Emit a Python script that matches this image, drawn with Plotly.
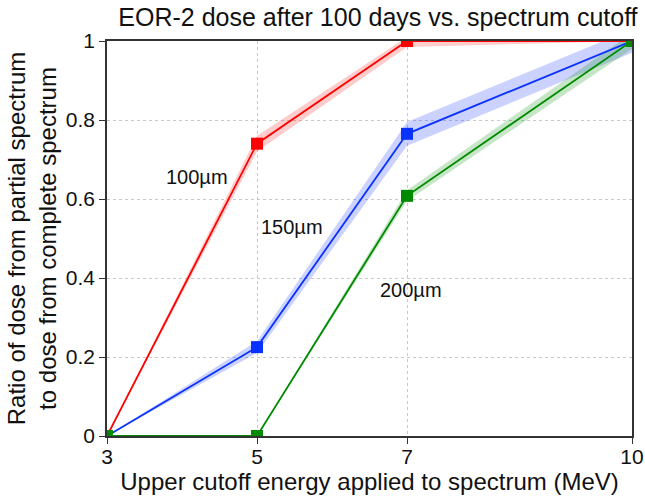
import plotly.graph_objects as go

energy = [3, 5, 7, 10]

r100 = [0.0, 0.74, 1.0, 1.0]
r100_lo = [0.0, 0.72, 0.985, 1.0]
r100_hi = [0.0, 0.76, 1.01, 1.0]

r150 = [0.0, 0.225, 0.765, 1.0]
r150_lo = [0.0, 0.21, 0.735, 0.97]
r150_hi = [0.0, 0.24, 0.795, 1.03]

r200 = [0.0, 0.0, 0.608, 1.0]
r200_lo = [0.0, 0.0, 0.595, 0.98]
r200_hi = [0.0, 0.0, 0.622, 1.02]

series = [
    ("100µm", r100, r100_lo, r100_hi, "#ff0000", "rgba(255,0,0,0.2)", 4.2, 0.656),
    ("150µm", r150, r150_lo, r150_hi, "#0a32ff", "rgba(20,50,255,0.22)", 5.47, 0.529),
    ("200µm", r200, r200_lo, r200_hi, "#008a00", "rgba(0,140,0,0.22)", 7.05, 0.37),
]

fig = go.Figure()
for name, y, lo, hi, col, fcol, ax, ay in series:
    fig.add_trace(go.Scatter(
        x=energy + energy[::-1], y=hi + lo[::-1], fill="toself",
        fillcolor=fcol, line=dict(width=0), mode="lines",
        hoverinfo="skip", showlegend=False))
for name, y, lo, hi, col, fcol, ax, ay in series:
    fig.add_trace(go.Scatter(
        x=energy, y=y, mode="lines+markers", name=name,
        line=dict(color=col, width=1.8),
        marker=dict(symbol="square", size=12, color=col),
        cliponaxis=True, showlegend=False))
    fig.add_annotation(x=ax, y=ay, text=name, showarrow=False,
                       font=dict(size=20, color="#111"))

axis_common = dict(
    showline=True, linecolor="#333", linewidth=1.5, mirror=True,
    ticks="outside", ticklen=6, tickcolor="#333",
    showgrid=True, gridcolor="#c8c8c8", griddash="dot", gridwidth=1,
    zeroline=False, tickfont=dict(size=21, color="#111"), automargin=False,
)

fig.update_layout(
    width=645, height=499,
    margin=dict(l=107, r=13, t=41, b=63),
    paper_bgcolor="white", plot_bgcolor="white",
    font=dict(family="Liberation Sans, Arial, sans-serif", color="#111"),
    title=dict(text="EOR-2 dose after 100 days vs. spectrum cutoff",
               x=0.586, xanchor="center", y=0.965, yanchor="middle",
               font=dict(size=25, color="#111")),
    xaxis=dict(range=[3, 10], tickvals=[3, 5, 7, 10], ticklabelstandoff=-5,
               title=dict(text="Upper cutoff energy applied to spectrum (MeV)",
                          font=dict(size=24), standoff=4),
               **axis_common),
    yaxis=dict(range=[0, 1], tickvals=[0, 0.2, 0.4, 0.6, 0.8, 1],
               ticktext=["0", "0.2", "0.4", "0.6", "0.8", "1"],
               title=dict(text="Ratio of dose from partial spectrum<br>to dose from complete spectrum",
                          font=dict(size=24), standoff=2),
               **axis_common),
)

fig.write_html("out.html")
